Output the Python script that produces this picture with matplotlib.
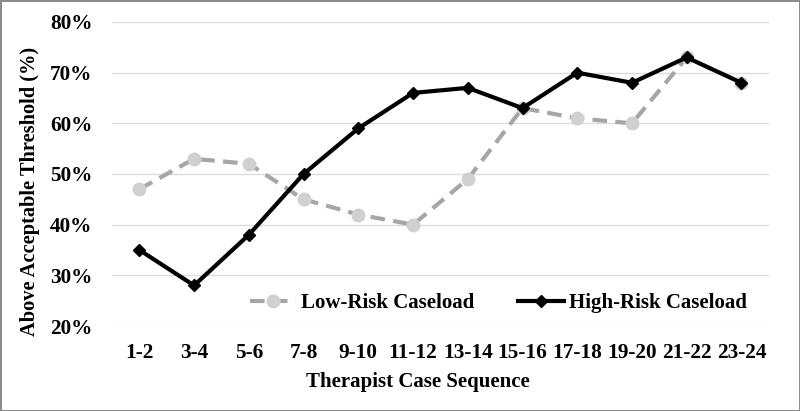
import matplotlib
matplotlib.use('Agg')
import matplotlib.pyplot as plt
from matplotlib.ticker import PercentFormatter

categories = ['1-2', '3-4', '5-6', '7-8', '9-10', '11-12', '13-14',
              '15-16', '17-18', '19-20', '21-22', '23-24']
low_risk = [47, 53, 52, 45, 42, 40, 49, 63, 61, 60, 73, 68]
high_risk = [35, 28, 38, 50, 59, 66, 67, 63, 70, 68, 73, 68]

plt.rcParams['font.family'] = ['Liberation Serif', 'DejaVu Serif']
plt.rcParams['font.weight'] = 'bold'

fig = plt.figure(figsize=(8, 4.11), dpi=100)
fig.patch.set_edgecolor('#8c8c8c')
fig.patch.set_linewidth(2)
ax = fig.add_axes([0.14, 0.2068, 0.821, 0.7397])

x = list(range(len(categories)))
ax.plot(x, low_risk, color='#a6a6a6', linestyle=(0, (3.5, 2)), linewidth=3,
        marker='o', markersize=9, markerfacecolor='#d0d0d0',
        markeredgecolor='#d0d0d0', label='Low-Risk Caseload', zorder=2)
ax.plot(x, high_risk, color='black', linewidth=3, marker='D', markersize=6,
        label='High-Risk Caseload', zorder=3)

ax.set_xlim(-0.5, len(categories) - 0.5)
ax.set_ylim(20, 80)
ax.set_yticks(range(20, 81, 10))
ax.yaxis.set_major_formatter(PercentFormatter(decimals=0))
ax.set_xticks(x)
ax.set_xticklabels(categories)
ax.tick_params(axis='x', length=0, labelsize=15.3, pad=12)
ax.tick_params(axis='y', length=0, labelsize=15.3, pad=14)
ax.grid(axis='y', color='#dcdcdc', linewidth=1)
ax.set_axisbelow(True)
for s in ax.spines.values():
    s.set_visible(False)

ax.legend(loc='center', bbox_to_anchor=(0.589, 0.076), ncol=2, frameon=False,
          fontsize=15, handlelength=2.2, handletextpad=0.25, columnspacing=2.1)

fig.text(0.5225, 0.0706, 'Therapist Case Sequence', ha='center', va='center',
         fontsize=15, fontweight='bold')
fig.text(0.037, 0.533, 'Above Acceptable Threshold (%)', ha='center', va='center',
         rotation=90, fontsize=14.7, fontweight='bold')

fig.savefig('out.png', dpi=100)
